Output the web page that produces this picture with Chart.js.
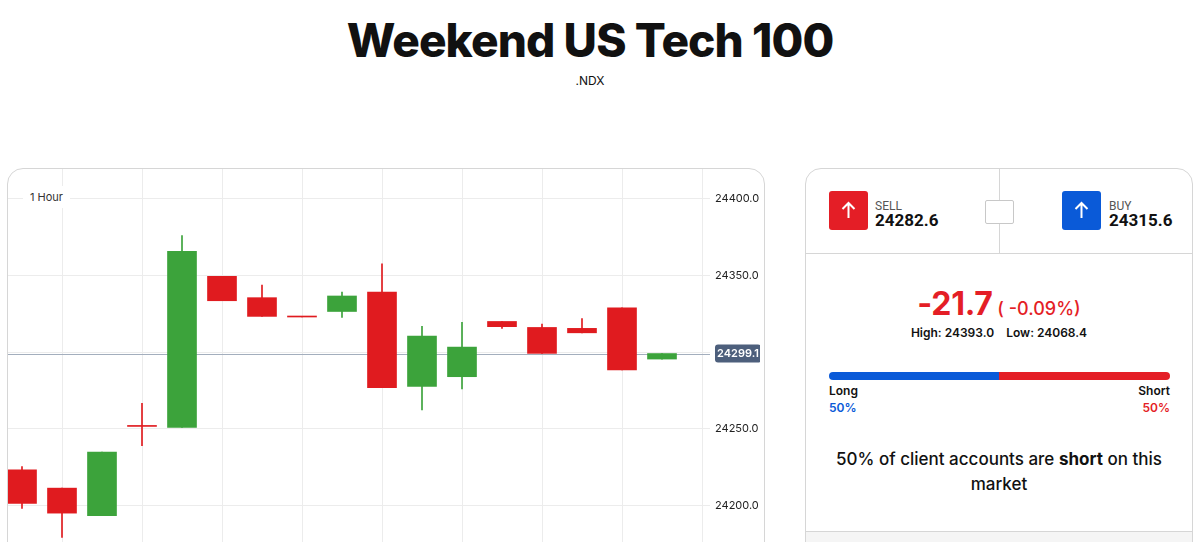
<!DOCTYPE html>
<html><head><meta charset="utf-8">
<script src="https://cdn.jsdelivr.net/npm/chart.js@4.4.1/dist/chart.umd.min.js"></script>
<style>
html,body{margin:0;padding:0;background:#fff;width:1200px;height:542px;overflow:hidden;font-family:Inter,"Noto Sans",sans-serif;color:#111;}
#title{position:absolute;left:0;width:1180px;top:12px;text-align:center;font-size:46px;font-weight:800;letter-spacing:-0.9px;line-height:56px;}
#sub{position:absolute;left:0;width:1180px;top:73px;text-align:center;font-size:12px;line-height:16px;}
#card{position:absolute;left:7px;top:168px;width:756px;height:400px;border:1px solid #d6d6d6;border-radius:16px 16px 0 0;overflow:hidden;background:#fff;}
#wrap{position:absolute;left:-6px;top:-1px;width:758px;height:399px;}
#hour{position:absolute;left:15px;top:17px;padding:4px 7px;background:#fff;font-size:11px;color:#333;line-height:14px;}
#panel{position:absolute;left:805px;top:168px;width:386px;height:400px;border:1px solid #d6d6d6;border-radius:16px 16px 0 0;overflow:hidden;background:#fff;}
.abs{position:absolute;}
.btn{position:absolute;width:39px;height:39px;border-radius:3px;}
.lbl{position:absolute;font-family:Roboto,sans-serif;font-size:12px;color:#555;line-height:14px;}
.px{position:absolute;font-family:Roboto,sans-serif;font-size:17px;font-weight:700;color:#111;line-height:20px;}
</style></head>
<body>
<div id="title">Weekend US Tech 100</div>
<div id="sub">.NDX</div>
<div id="card"><div id="wrap"><canvas id="c" width="758" height="399"></canvas></div><div id="hour">1 Hour</div></div>
<div id="panel">
  <div class="abs" style="left:193px;top:0;width:1px;height:85px;background:#d6d6d6"></div>
  <div class="abs" style="left:0;top:84px;width:386px;height:1px;background:#d6d6d6"></div>
  <div class="abs" style="left:179px;top:31px;width:27px;height:22px;border:1px solid #c8c8c8;border-radius:2px;background:#fff"></div>
  <div class="btn" style="left:23px;top:22px;background:#e41e26"><svg width="39" height="39" viewBox="0 0 39 39"><path d="M19.5 12 L19.5 27 M13.5 18 L19.5 12 L25.5 18" stroke="#fff" stroke-width="2" fill="none"/></svg></div>
  <div class="lbl" style="left:69px;top:30px">SELL</div>
  <div class="px" style="left:69px;top:41px">24282.6</div>
  <div class="btn" style="left:256px;top:22px;background:#0a5ad8"><svg width="39" height="39" viewBox="0 0 39 39"><path d="M19.5 12 L19.5 27 M13.5 18 L19.5 12 L25.5 18" stroke="#fff" stroke-width="2" fill="none"/></svg></div>
  <div class="lbl" style="left:303px;top:30px">BUY</div>
  <div class="px" style="left:303px;top:41px">24315.6</div>
  <div class="abs" style="left:0;top:115px;width:386px;text-align:center;color:#e41e26;white-space:nowrap"><span style="font-size:32px;font-weight:700;letter-spacing:-0.3px">-21.7</span><span style="font-size:18px;font-weight:500"> ( -0.09%)</span></div>
  <div class="abs" style="left:0;top:156px;width:386px;text-align:center;font-size:12px;font-weight:600;white-space:nowrap">High: 24393.0&nbsp;&nbsp;&nbsp;&nbsp;Low: 24068.4</div>
  <div class="abs" style="left:23px;top:203px;width:341px;height:8px;border-radius:4px;background:linear-gradient(to right,#0a5ad8 0,#0a5ad8 50%,#e41e26 50%,#e41e26 100%)"></div>
  <div class="abs" style="left:23px;top:214px;font-size:12px;font-weight:600">Long</div>
  <div class="abs" style="left:23px;top:231px;font-size:12px;font-weight:600;color:#0a5ad8">50%</div>
  <div class="abs" style="right:22px;top:214px;font-size:12px;font-weight:600">Short</div>
  <div class="abs" style="right:22px;top:231px;font-size:12px;font-weight:600;color:#e41e26">50%</div>
  <div class="abs" style="left:22px;top:278px;width:342px;text-align:center;font-size:17px;font-weight:500;line-height:25px">50% of client accounts are <b>short</b> on this market</div>
  <div class="abs" style="left:0;top:362px;width:386px;height:1px;background:#d6d6d6"></div>
  <div class="abs" style="left:0;top:363px;width:386px;height:40px;background:#f5f5f5"></div>
</div>
<script>
// ---- data ----
const slots  = [0,1,2,3,4,5,6,7,8,9,10,11,12,13,14,15,16];
const opens  = [24223.3,24211.4,24193.4,24252.0,24250.9,24349.4,24335.5,24323.3,24326.5,24339.2,24277.6,24284.0,24320.0,24316.1,24315.5,24328.9,24295.5];
const closes = [24201.4,24195.1,24234.9,24251.6,24365.7,24333.5,24323.3,24322.9,24336.6,24276.8,24310.5,24303.3,24316.6,24299.2,24312.6,24288.5,24299.1];
const highs  = [24225.5,24211.4,24234.9,24266.6,24375.9,24349.4,24343.7,24323.3,24339.2,24357.6,24316.8,24319.4,24320.0,24318.3,24321.8,24328.9,24299.1];
const lows   = [24198.1,24179.2,24193.4,24239.0,24250.9,24333.5,24323.3,24322.9,24322.6,24276.8,24262.4,24276.1,24315.5,24299.2,24312.6,24288.5,24295.5];
const yTicks = [24200,24250,24300,24350,24400];
const xGridTicks = [1,3,5,7,9,11,13,15,17];
const currentPrice = 24299.1;

const UP='#3ca33b', DOWN='#e01b1f';
const cols = slots.map((s,i)=> closes[i]>=opens[i]?UP:DOWN);

const priceLine = {
  id:'priceLine',
  beforeDatasetsDraw(chart){
    const {ctx, chartArea:a, scales:{y}} = chart;
    const py = Math.round(y.getPixelForValue(currentPrice))+0.5;
    ctx.save(); ctx.strokeStyle='#a3aebd'; ctx.lineWidth=1;
    ctx.beginPath(); ctx.moveTo(a.left,py); ctx.lineTo(a.right,py); ctx.stroke(); ctx.restore();
  },
  afterDraw(chart){
    const {ctx, chartArea:a, scales:{y}} = chart;
    const py = y.getPixelForValue(currentPrice);
    ctx.save();
    const x0=a.right+5, w=46, h=18;
    ctx.fillStyle='#4d5f7c';
    ctx.beginPath(); ctx.roundRect(x0, py-h/2, w, h, 3); ctx.fill();
    ctx.fillStyle='#fff'; ctx.font='600 11px Inter'; ctx.textAlign='center'; ctx.textBaseline='middle';
    ctx.fillText(currentPrice.toFixed(1), x0+w/2, py+0.5);
    ctx.restore();
  }
};

new Chart(document.getElementById('c'), {
  type:'bar',
  data:{datasets:[
    {label:'body', data:slots.map((s,i)=>({x:s,y:[opens[i],closes[i]]})), backgroundColor:cols, borderWidth:0, barThickness:29, minBarLength:1, grouped:false, order:0},
    {label:'wick', data:slots.map((s,i)=>({x:s,y:[lows[i],highs[i]]})), backgroundColor:cols, borderWidth:0, barThickness:1, grouped:false, order:1}
  ]},
  options:{
    responsive:false, animation:false, layout:{padding:0},
    plugins:{legend:{display:false}, tooltip:{enabled:false}},
    scales:{
      x:{type:'linear', min:-0.5, max:17.2, offset:false,
         grid:{color:'#ececec', drawTicks:false, offset:false}, border:{display:false}, ticks:{display:false},
         afterBuildTicks(s){ s.ticks = xGridTicks.map(v=>({value:v})); },
         afterFit(s){ s.height=0; s.paddingLeft=0; s.paddingRight=0; }},
      y:{position:'right', min:24160, max:24420,
         grid:{color:'#ececec', drawTicks:false}, border:{display:false},
         ticks:{padding:5, color:'#222', font:{family:'Inter', size:11}, callback:v=>Number(v).toFixed(1)},
         afterBuildTicks(s){ s.ticks = yTicks.map(v=>({value:v})); },
         afterFit(s){ s.width=50; s.paddingTop=0; s.paddingBottom=0; }}
    }
  },
  plugins:[priceLine]
});
</script>
</body></html>
